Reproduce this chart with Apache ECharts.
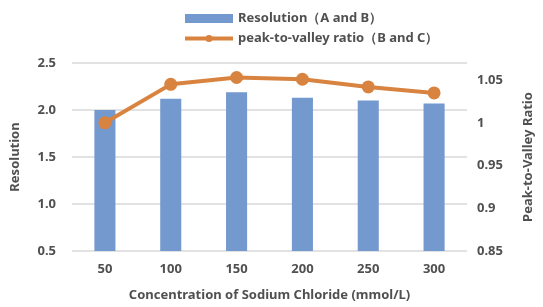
<!DOCTYPE html>
<html>
<head>
<meta charset="utf-8">
<script src="https://cdn.jsdelivr.net/npm/echarts@6/dist/echarts.min.js"></script>
<style>
  html, body { margin: 0; padding: 0; background: #fff; }
  #chart { width: 543px; height: 307px; }
</style>
</head>
<body>
<div id="chart"></div>
<script>
var categories = ["50", "100", "150", "200", "250", "300"];
var resolution = [2.0, 2.12, 2.19, 2.13, 2.10, 2.07];
var pvRatio = [1.0, 1.045, 1.053, 1.051, 1.042, 1.035];

var textColor = "#505050";
var font = "Noto Sans";

var chart = echarts.init(document.getElementById("chart"));
chart.setOption({
  animation: false,
  textStyle: { fontFamily: font },
  legend: {
    orient: "vertical",
    left: 178,
    top: 7,
    itemGap: 7,
    itemWidth: 48,
    itemHeight: 9,
    textStyle: { color: textColor, fontWeight: "bold", fontSize: 13, fontFamily: font },
    data: [
      { name: "Resolution（A and B）", icon: "rect" },
      { name: "peak-to-valley ratio（B and C）", lineStyle: { width: 4 } }
    ]
  },
  grid: { left: 72, right: 76, top: 63, bottom: 55 },
  xAxis: {
    type: "category",
    data: categories,
    axisLine: { show: false },
    axisTick: { show: false },
    axisLabel: { color: textColor, fontWeight: "bold", fontSize: 13, margin: 12 },
    name: "Concentration of Sodium Chloride (mmol/L)",
    nameLocation: "middle",
    nameGap: 38,
    nameTextStyle: { color: textColor, fontWeight: "bold", fontSize: 13 }
  },
  yAxis: [
    {
      type: "value",
      min: 0.5,
      max: 2.5,
      interval: 0.5,
      axisLabel: {
        color: textColor, fontWeight: "bold", fontSize: 13, margin: 16,
        formatter: function (v) { return v.toFixed(1); }
      },
      splitLine: { lineStyle: { color: "#d9d9d9", width: 1.5 } },
      name: "Resolution",
      nameLocation: "middle",
      nameGap: 50,
      nameTextStyle: { color: textColor, fontWeight: "bold", fontSize: 13 }
    },
    {
      type: "value",
      min: 0.85,
      max: 1.07,
      interval: 0.05,
      splitLine: { show: false },
      axisLabel: {
        color: textColor, fontWeight: "bold", fontSize: 13, margin: 10,
        showMaxLabel: false,
        formatter: function (v) { return String(Math.round(v * 100) / 100); }
      },
      name: "Peak-to-Valley Ratio",
      nameLocation: "middle",
      nameGap: 55,
      nameRotate: 90,
      nameTextStyle: { color: textColor, fontWeight: "bold", fontSize: 13 }
    }
  ],
  series: [
    {
      name: "Resolution（A and B）",
      type: "bar",
      data: resolution,
      barWidth: "32%",
      itemStyle: { color: "#7399cf" }
    },
    {
      name: "peak-to-valley ratio（B and C）",
      type: "line",
      yAxisIndex: 1,
      data: pvRatio,
      symbol: "circle",
      symbolSize: 13,
      lineStyle: { color: "#d8833f", width: 4 },
      itemStyle: { color: "#d8833f" }
    }
  ]
});
</script>
</body>
</html>
